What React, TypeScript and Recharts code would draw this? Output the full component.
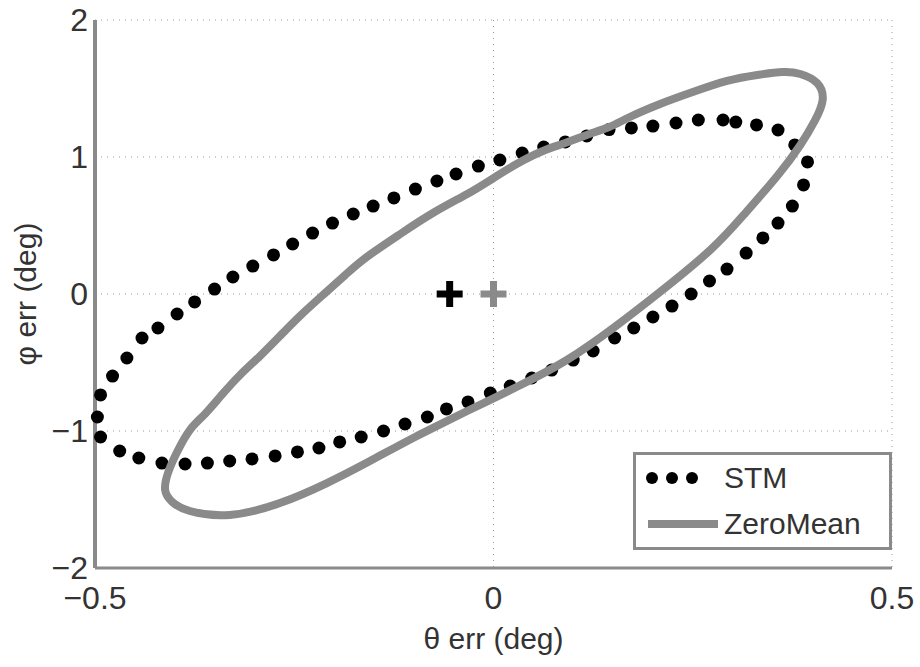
import React from 'react';
import { ScatterChart, Scatter, XAxis, YAxis, CartesianGrid, Legend } from 'recharts';

// STM error ellipse samples (theta err, phi err)
const stmTheta = [
  -0.497, -0.493, -0.478, -0.46, -0.441, -0.421, -0.397, -0.375, -0.35, -0.327,
  -0.302, -0.276, -0.252, -0.227, -0.202, -0.176, -0.151, -0.125, -0.098, -0.071,
  -0.047, -0.019, 0.008, 0.036, 0.063, 0.09, 0.117, 0.145, 0.173, 0.2,
  0.229, 0.257, 0.288, 0.304, 0.33, 0.357, 0.378, 0.394, 0.389, 0.375,
  0.357, 0.338, 0.317, 0.293, 0.271, 0.248, 0.224, 0.2, 0.176, 0.152,
  0.125, 0.1, 0.073, 0.048, 0.021, -0.004, -0.032, -0.059, -0.083, -0.111,
  -0.138, -0.166, -0.193, -0.219, -0.246, -0.274, -0.303, -0.331, -0.359, -0.387,
  -0.416, -0.445, -0.469, -0.493,
];
const stmPhi = [
  -0.898, -0.737, -0.599, -0.467, -0.321, -0.248, -0.146, -0.058, 0.036, 0.124,
  0.204, 0.285, 0.365, 0.445, 0.518, 0.584, 0.642, 0.701, 0.766, 0.825,
  0.876, 0.934, 0.978, 1.029, 1.073, 1.11, 1.154, 1.2, 1.212, 1.226,
  1.248, 1.27, 1.27, 1.255, 1.234, 1.197, 1.088, 0.964, 0.796, 0.642,
  0.518, 0.409, 0.299, 0.182, 0.095, 0.0, -0.088, -0.168, -0.248, -0.321,
  -0.416, -0.482, -0.555, -0.613, -0.672, -0.723, -0.788, -0.839, -0.898, -0.949,
  -1.0, -1.044, -1.08, -1.124, -1.153, -1.182, -1.204, -1.219, -1.234, -1.241,
  -1.234, -1.197, -1.146, -1.044,
];

// ZeroMean ellipse outline, traced in order around the loop
// (starts on the straight lower side and runs one point past the start to close it)
const zmTheta = [
  -0.096, -0.033, 0.029, 0.092, 0.152, 0.209,
  0.272, 0.316, 0.356, 0.385, 0.403, 0.413, 0.406, 0.385, 0.363, 0.331,
  0.293, 0.25, 0.209, 0.171, 0.145, 0.117, 0.09, 0.062, 0.029, -0.004,
  -0.033, -0.076, -0.117, -0.159, -0.186, -0.214, -0.243, -0.268, -0.293, -0.318,
  -0.341, -0.362, -0.381, -0.397, -0.408, -0.412, -0.403, -0.381, -0.331,
  -0.268, -0.209, -0.155, -0.096, -0.033,
];
const zmPhi = [
  -1.036, -0.854, -0.679, -0.482, -0.241, 0.015,
  0.321, 0.591, 0.861, 1.088, 1.263, 1.416, 1.54, 1.606, 1.62, 1.599,
  1.555, 1.474, 1.387, 1.292, 1.219, 1.161, 1.102, 1.044, 0.949, 0.832,
  0.73, 0.591, 0.438, 0.27, 0.139, -0.007, -0.161, -0.307, -0.453, -0.591,
  -0.737, -0.876, -0.993, -1.153, -1.299, -1.431, -1.518, -1.584, -1.613,
  -1.526, -1.38, -1.219, -1.036, -0.854,
];

// mean markers
const stmMean = [{ x: -0.055, y: 0 }];
const zmMean = [{ x: 0, y: 0 }];

const xTicks = [-0.5, 0, 0.5];
const yTicks = [-2, -1, 0, 1, 2];
const seriesNames = ['STM', 'ZeroMean'];

const stmData = stmTheta.map((x, i) => ({ x, y: stmPhi[i] }));
const zmData = zmTheta.map((x, i) => ({ x, y: zmPhi[i] }));

const FONT = '"Liberation Sans", Arial, sans-serif';
const GREY = '#8a8a8a';

const fmt = (v: number) => String(v).replace('-', '\u2212');

const Dot = (p: any) => <circle cx={p.cx} cy={p.cy} r={6.5} fill="#000" />;
const NoDot = () => <g />;

const plus = (color: string) => (p: any) => (
  <g stroke={color} strokeWidth={7}>
    <line x1={p.cx - 13} y1={p.cy} x2={p.cx + 13} y2={p.cy} />
    <line x1={p.cx} y1={p.cy - 13} x2={p.cx} y2={p.cy + 13} />
  </g>
);

const YLabel = (props: any) => {
  const vb = props.viewBox || { x: 0, y: 20, height: 548 };
  const cx = 25;
  const cy = vb.y + vb.height / 2;
  return (
    <text
      x={cx}
      y={cy}
      transform={`rotate(-90 ${cx} ${cy})`}
      textAnchor="middle"
      dominantBaseline="central"
      fontSize={30}
      fontFamily={FONT}
      fill="#333"
    >
      φ err (deg)
    </text>
  );
};

const LegendBox = () => (
  <div
    style={{
      width: 253,
      height: 92,
      border: `3px solid ${GREY}`,
      background: '#fff',
      fontFamily: FONT,
      fontSize: 30,
      color: '#333',
      boxSizing: 'content-box',
    }}
  >
    <div style={{ display: 'flex', alignItems: 'center', height: 46 }}>
      <svg width={80} height={20} style={{ marginLeft: 8 }}>
        <circle cx={8} cy={10} r={6} fill="#000" />
        <circle cx={28} cy={10} r={6} fill="#000" />
        <circle cx={48} cy={10} r={6} fill="#000" />
      </svg>
      <span>{seriesNames[0]}</span>
    </div>
    <div style={{ display: 'flex', alignItems: 'center', height: 46 }}>
      <svg width={76} height={20} style={{ marginLeft: 12 }}>
        <line x1={0} y1={10} x2={70} y2={10} stroke={GREY} strokeWidth={8} />
      </svg>
      <span>{seriesNames[1]}</span>
    </div>
  </div>
);

const App: React.FC = () => {
  const tick = { fontSize: 32, fill: '#333', fontFamily: FONT };
  return (
    <div style={{ position: 'absolute', left: 0, top: 0, width: 920, height: 667, background: '#fff' }}>
      <ScatterChart width={920} height={667} margin={{ top: 20, right: 28, bottom: 0, left: 0 }}>
        <CartesianGrid stroke="#9a9a9a" strokeDasharray="1 5" />
        <XAxis
          type="number"
          dataKey="x"
          domain={[-0.5, 0.5]}
          ticks={xTicks}
          tickFormatter={fmt}
          height={99}
          tickSize={0}
          tickMargin={18}
          tick={tick}
          axisLine={{ stroke: GREY, strokeWidth: 3 }}
          label={{ value: 'θ err (deg)', position: 'insideBottom', offset: 18, fontSize: 30, fill: '#333', fontFamily: FONT }}
        />
        <YAxis
          type="number"
          dataKey="y"
          domain={[-2, 2]}
          ticks={yTicks}
          tickFormatter={fmt}
          width={95}
          tickSize={0}
          tickMargin={7}
          tick={tick}
          axisLine={{ stroke: GREY, strokeWidth: 4 }}
          label={<YLabel />}
        />
        <Scatter name={seriesNames[0]} data={stmData} shape={Dot} isAnimationActive={false} />
        <Scatter
          name={seriesNames[1]}
          data={zmData}
          line={{ stroke: GREY, strokeWidth: 8, strokeLinejoin: 'round' } as any}
          lineJointType="natural"
          shape={NoDot}
          isAnimationActive={false}
        />
        <Scatter data={stmMean} shape={plus('#000')} isAnimationActive={false} legendType="none" />
        <Scatter data={zmMean} shape={plus(GREY)} isAnimationActive={false} legendType="none" />
        <Legend
          layout="vertical"
          align="center"
          verticalAlign="middle"
          content={<LegendBox />}
          wrapperStyle={{ left: 633, top: 452, width: 259, height: 98 }}
        />
      </ScatterChart>
    </div>
  );
};

export default App;
